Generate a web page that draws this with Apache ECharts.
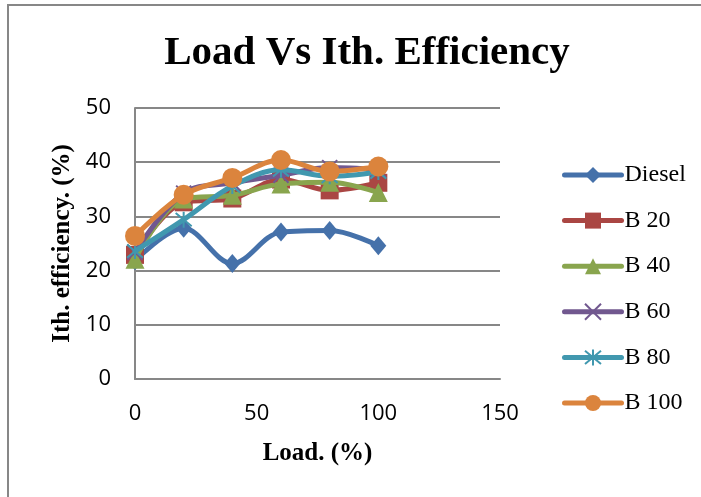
<!DOCTYPE html>
<html><head><meta charset="utf-8">
<script src="https://cdn.jsdelivr.net/npm/echarts@6/dist/echarts.min.js"></script>
<style>html,body{margin:0;padding:0;background:#fff}#c{width:701px;height:497px}</style>
</head><body><div id="c"></div>
<script>
var loads = [0, 20, 40, 60, 80, 100];
var seriesNames = ['Diesel', 'B 20', 'B 40', 'B 60', 'B 80', 'B 100'];
var diesel = [21.8, 27.8, 21.3, 27.1, 27.4, 24.6];
var b20 = [22.9, 32.6, 33.3, 36.8, 34.8, 36.2];
var b40 = [22.1, 33.2, 33.9, 36.0, 36.3, 34.4];
var b60 = [23.4, 34.3, 36.2, 37.6, 39.0, 38.6];
var b80 = [23.6, 29.4, 35.6, 38.6, 37.4, 38.2];
var b100 = [26.4, 34.0, 37.1, 40.4, 38.3, 39.2];
var xTicks = [0, 50, 100, 150];
var yTicks = [0, 10, 20, 30, 40, 50];

var values = [diesel, b20, b40, b60, b80, b100];
var colors = ['#4571AA', '#AA4643', '#89A54E', '#71588F', '#4198AF', '#DB843D'];
var symbols = ['diamond', 'rect', 'triangle', 'path://M0,0L10,10M10,0L0,10', 'path://M0,0L10,10M10,0L0,10M5,-1L5,11', 'circle'];
var sizes = [[16, 19], 18, 19, 15, 16, 20];
var stroked = [false, false, false, true, true, false];

function pairs(v) { return loads.map(function (x, i) { return [x, v[i]]; }); }

var series = values.map(function (v, k) {
  return {
    name: seriesNames[k],
    type: 'line',
    data: pairs(v),
    smooth: 0.35,
    symbol: symbols[k],
    symbolSize: sizes[k],
    showAllSymbol: true,
    z: 2 + k,
    lineStyle: { color: colors[k], width: 5, cap: 'round', join: 'round' },
    itemStyle: stroked[k] ? { color: colors[k], borderColor: colors[k], borderWidth: 2 } : { color: colors[k], borderWidth: 0 },
    emphasis: { disabled: true }
  };
});

var chart = echarts.init(document.getElementById('c'), null, { renderer: 'canvas' });
var serif = '"Liberation Serif", "Times New Roman", serif';
var sans = '"Open Sans", "Liberation Sans", sans-serif';
chart.setOption({
  animation: false,
  backgroundColor: '#ffffff',
  graphic: [{
    type: 'rect', shape: { x: 8, y: 5, width: 800, height: 600 },
    style: { fill: 'none', stroke: '#878787', lineWidth: 2 }, silent: true, z: -1
  }],
  title: {
    text: 'Load Vs Ith. Efficiency',
    left: 362, top: 28, textAlign: 'center',
    textStyle: { fontFamily: serif, fontWeight: 'bold', fontSize: 41, color: '#000' }
  },
  legend: {
    orient: 'vertical',
    left: 557, top: 158,
    itemWidth: 57, itemHeight: 20, itemGap: 21.6,
    data: seriesNames,
    lineStyle: { width: 5, cap: 'round' },
    textStyle: { fontFamily: serif, fontSize: 24, color: '#000', lineHeight: 24, padding: [0, 0, 0, -2] }
  },
  grid: { left: 135, right: 201, top: 108, bottom: 118, containLabel: false },
  xAxis: {
    type: 'value', min: 0, max: 150, interval: 50,
    name: 'Load. (%)', nameLocation: 'middle', nameGap: 62,
    nameTextStyle: { fontFamily: serif, fontWeight: 'bold', fontSize: 25, color: '#000' },
    axisLine: { show: true, lineStyle: { color: '#878787', width: 2 } },
    axisTick: { show: false },
    splitLine: { show: false },
    axisLabel: { fontFamily: sans, fontSize: 22, color: '#000', margin: 24,
      formatter: function (v) { return xTicks.indexOf(v) >= 0 ? String(v) : ''; } }
  },
  yAxis: {
    type: 'value', min: 0, max: 50, interval: 10,
    name: 'Ith. efficiency. (%)', nameLocation: 'middle', nameGap: 60,
    nameTextStyle: { fontFamily: serif, fontWeight: 'bold', fontSize: 25, color: '#000' },
    axisLine: { show: true, lineStyle: { color: '#878787', width: 2 } },
    axisTick: { show: false },
    splitLine: { show: true, lineStyle: { color: '#878787', width: 2 } },
    axisLabel: { fontFamily: sans, fontSize: 22, color: '#000', margin: 24,
      formatter: function (v) { return yTicks.indexOf(v) >= 0 ? String(v) : ''; } }
  },
  series: series
});
</script></body></html>
